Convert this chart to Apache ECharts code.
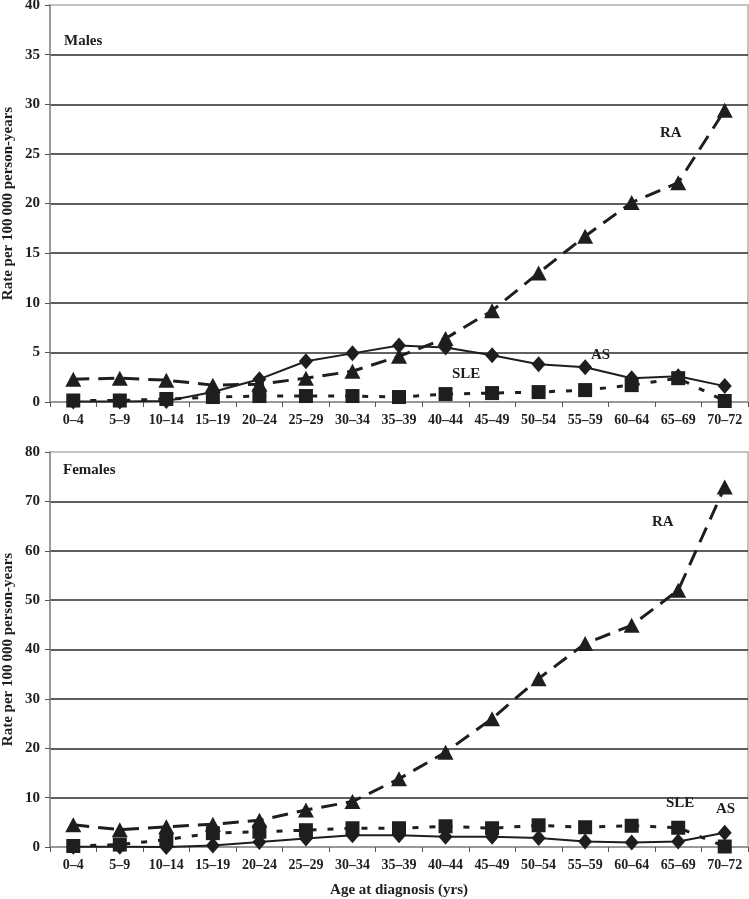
<!DOCTYPE html>
<html>
<head>
<meta charset="utf-8">
<script src="https://cdn.jsdelivr.net/npm/echarts@6/dist/echarts.min.js"></script>
<style>
  html, body { margin: 0; padding: 0; background: #fff; }
  #chart { width: 749px; height: 899px; }
</style>
</head>
<body>
<div id="chart"></div>
<script>
// age groups on the x axis
var ageGroups = ['0–4', '5–9', '10–14', '15–19', '20–24', '25–29', '30–34', '35–39',
  '40–44', '45–49', '50–54', '55–59', '60–64', '65–69', '70–72']

// males, rate per 100 000 person-years
var maleRA = [2.3, 2.4, 2.2, 1.7, 1.8, 2.4, 3.1, 4.6, 6.4, 9.2, 13.0, 16.7, 20.1, 22.1, 29.4]
var maleAS = [0.05, 0.05, 0.1, 1.0, 2.3, 4.1, 4.9, 5.7, 5.5, 4.7, 3.8, 3.5, 2.4, 2.6, 1.6]
var maleSLE = [0.15, 0.15, 0.3, 0.5, 0.6, 0.6, 0.6, 0.5, 0.8, 0.9, 1.0, 1.2, 1.7, 2.4, 0.1]

// females
var femaleRA = [4.5, 3.5, 4.1, 4.6, 5.4, 7.5, 9.2, 13.8, 19.2, 26.0, 34.1, 41.2, 44.9, 52.0, 72.9]
var femaleAS = [0.05, 0.05, 0.0, 0.3, 1.0, 1.7, 2.4, 2.4, 2.1, 2.1, 1.8, 1.1, 0.9, 1.1, 2.9]
var femaleSLE = [0.2, 0.5, 1.5, 2.8, 3.1, 3.4, 3.8, 3.8, 4.2, 3.8, 4.4, 4.0, 4.3, 3.9, 0.1]

var serif = '"Liberation Serif", "DejaVu Serif", serif'
var ink = '#1e1e1e'

var myChart = echarts.init(document.getElementById('chart'))

function xAxisFor(idx, withName) {
  return {
    type: 'category',
    gridIndex: idx,
    data: ageGroups,
    boundaryGap: true,
    axisLine: { lineStyle: { color: '#8c8c8c', width: 1.5 } },
    axisTick: { show: true, interval: 0, length: 5, lineStyle: { color: '#555' } },
    axisLabel: { interval: 0, color: ink, fontFamily: serif, fontWeight: 'bold', fontSize: 14, margin: 11 },
    name: withName ? 'Age at diagnosis (yrs)' : '',
    nameLocation: 'middle',
    nameGap: 36,
    nameMoveOverlap: false,
    nameTextStyle: { color: ink, fontFamily: serif, fontWeight: 'bold', fontSize: 15 }
  }
}

function yAxisFor(idx, max, step) {
  return {
    type: 'value',
    gridIndex: idx,
    min: 0,
    max: max,
    interval: step,
    axisLine: { show: true, lineStyle: { color: '#8c8c8c', width: 1.5 } },
    axisTick: { show: true, length: 5, lineStyle: { color: '#555' } },
    axisLabel: { color: ink, fontFamily: serif, fontWeight: 'bold', fontSize: 15, margin: 10 },
    splitLine: { show: true, showMinLine: false, showMaxLine: false, lineStyle: { color: '#2a2a2a', width: 1.5 } },
    name: 'Rate per 100\u2009000 person-years',
    nameLocation: 'middle',
    nameGap: 34,
    nameMoveOverlap: false,
    nameTextStyle: { color: ink, fontFamily: serif, fontWeight: 'bold', fontSize: 15 }
  }
}

function seriesFor(idx, ra, as, sle) {
  return [
    {
      name: 'RA', type: 'line', xAxisIndex: idx, yAxisIndex: idx, data: ra,
      symbol: 'triangle', symbolSize: [16, 15], z: 3,
      itemStyle: { color: ink },
      lineStyle: { color: ink, width: 3, type: [16, 9] }
    },
    {
      name: 'AS', type: 'line', xAxisIndex: idx, yAxisIndex: idx, data: as,
      symbol: 'diamond', symbolSize: [14, 16], z: 4,
      itemStyle: { color: ink },
      lineStyle: { color: ink, width: 2, type: 'solid' }
    },
    {
      name: 'SLE', type: 'line', xAxisIndex: idx, yAxisIndex: idx, data: sle,
      symbol: 'rect', symbolSize: 14, z: 5,
      itemStyle: { color: ink },
      lineStyle: { color: ink, width: 3, type: [6, 11] }
    }
  ]
}

function tag(text, x, y) {
  return {
    type: 'text', left: x, top: y,
    style: { text: text, fill: ink, font: 'bold 15px ' + serif }
  }
}

var option = {
  animation: false,
  backgroundColor: '#fff',
  title: [
    { text: 'Males', left: 59, top: 29, textStyle: { color: ink, fontFamily: serif, fontWeight: 'bold', fontSize: 15 } },
    { text: 'Females', left: 58, top: 458, textStyle: { color: ink, fontFamily: serif, fontWeight: 'bold', fontSize: 15 } }
  ],
  grid: [
    { left: 50, right: 1, top: 5, height: 397, containLabel: false, outerBoundsMode: 'none',
      show: true, borderColor: '#b0b0b0', borderWidth: 1.5 },
    { left: 50, right: 1, top: 452, height: 395, containLabel: false, outerBoundsMode: 'none',
      show: true, borderColor: '#b0b0b0', borderWidth: 1.5 }
  ],
  xAxis: [xAxisFor(0, false), xAxisFor(1, true)],
  yAxis: [yAxisFor(0, 40, 5), yAxisFor(1, 80, 10)],
  series: seriesFor(0, maleRA, maleAS, maleSLE).concat(seriesFor(1, femaleRA, femaleAS, femaleSLE)),
  graphic: [
    tag('RA', 660, 126),
    tag('AS', 591, 348),
    tag('SLE', 452, 367),
    tag('RA', 652, 515),
    tag('SLE', 666, 796),
    tag('AS', 716, 802)
  ]
}

myChart.setOption(option)
</script>
</body>
</html>
